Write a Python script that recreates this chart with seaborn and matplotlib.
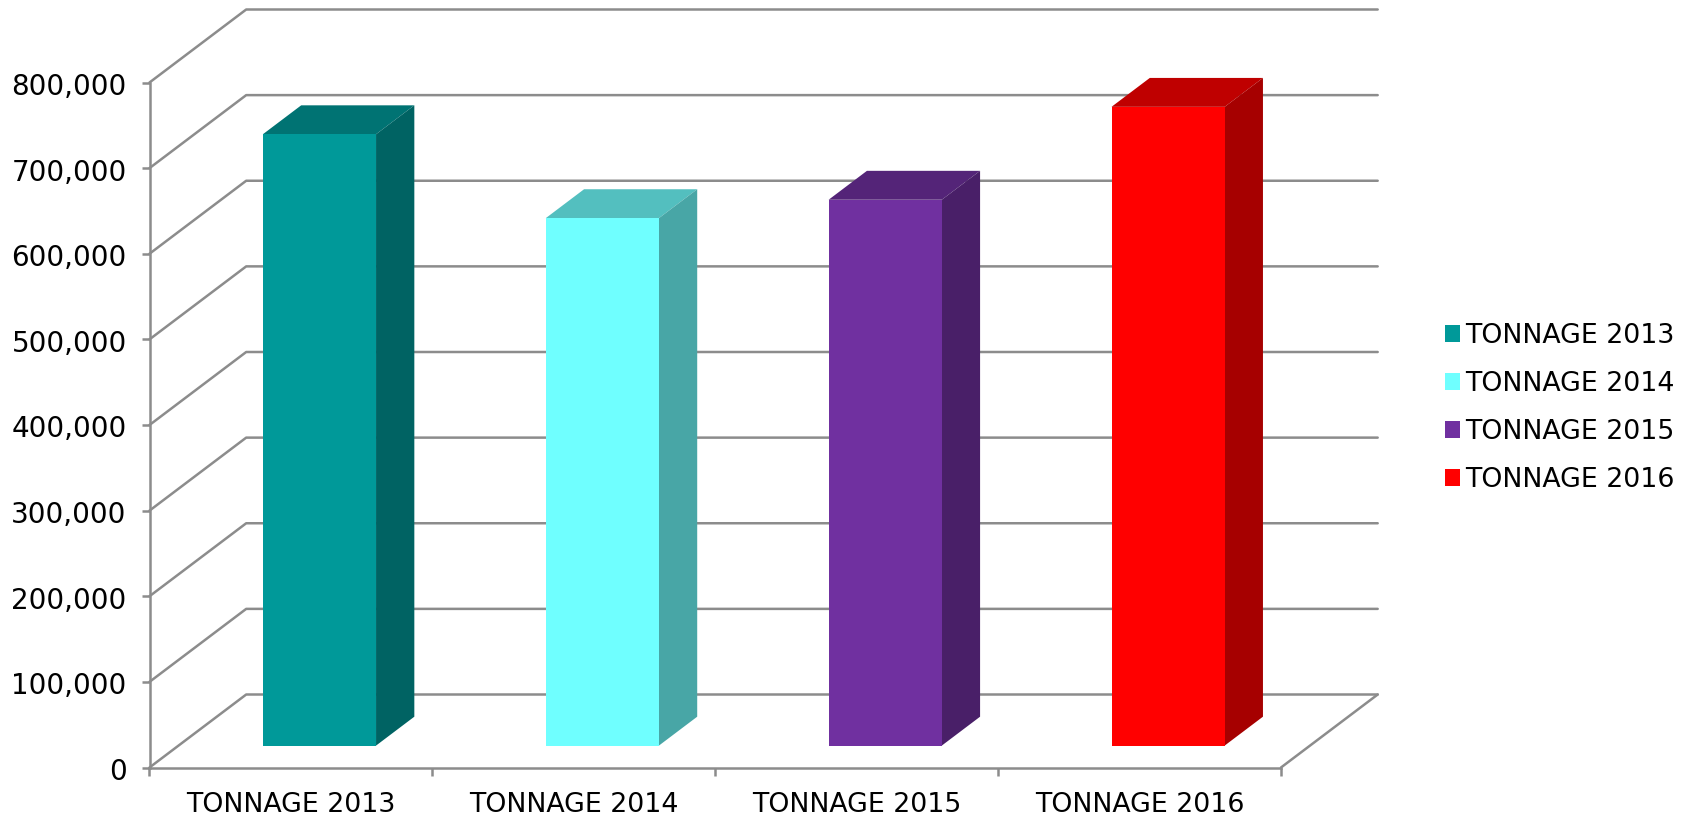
import matplotlib
matplotlib.use("Agg")
import matplotlib.pyplot as plt
import matplotlib.colors as mcolors
import matplotlib.transforms as mtrans
from matplotlib.patches import Polygon
from matplotlib.ticker import FuncFormatter
import seaborn as sns
import pandas as pd

categories = ["TONNAGE 2013", "TONNAGE 2014", "TONNAGE 2015", "TONNAGE 2016"]
values = [714000, 616000, 637500, 746000]
colors = ["#009999", "#6FFFFF", "#7030A0", "#FF0000"]
y_ticks = [0, 100000, 200000, 300000, 400000, 500000, 600000, 700000, 800000]

W, H = 1695, 816
X0, X1, Y0, Y1 = 149.5, 1281.0, 767.5, 82.5
GRID = "#8C8C8C"
LW = 1.8
FS_Y = 20
FS_X = 19.3

sns.set_theme(style="white", rc={"font.family": "DejaVu Sans", "text.color": "black"})
fig = plt.figure(figsize=(W / 100, H / 100), dpi=100, facecolor="white")
ax = fig.add_axes([X0 / W, 1 - Y0 / H, (X1 - X0) / W, (Y0 - Y1) / H])

df = pd.DataFrame({"category": categories, "value": values})
sns.barplot(data=df, x="category", y="value", hue="category", palette=colors,
            hue_order=categories, width=0.4, dodge=False, legend=True, ax=ax,
            saturation=1, linewidth=0, zorder=5)
ax.set_xlim(-0.5, 3.5)
ax.set_ylim(0, 800000)

# oblique depth of the chart's floor and wall, in data units
DX = 96.7 / ((X1 - X0) / 4)
DY = 73.0 / ((Y0 - Y1) / 800000)
def proj(x, y, d):
    return x + d * DX, y + d * DY

# wall and floor lines
line_kw = dict(color=GRID, lw=LW, clip_on=False, zorder=1, solid_capstyle="round")
for v in y_ticks:
    bx, by = proj(-0.5, v, 1)
    ex, _ = proj(3.5, v, 1)
    ax.plot([-0.5, bx, ex], [v, by, by], **line_kw)
ax.plot([3.5, proj(3.5, 0, 1)[0]], [0, DY], **line_kw)

# 3D faces of each bar
D_FRONT, D_BACK = 0.295, 0.691
shift = mtrans.Affine2D().translate(D_FRONT * DX, 0.30 * DY) + ax.transData
dd = D_BACK - D_FRONT
for bar in list(ax.patches):
    x, w, h = bar.get_x(), bar.get_width(), bar.get_height()
    if h == 0 or w == 0:
        continue
    rgb = mcolors.to_rgb(bar.get_facecolor())
    bar.set_transform(shift)
    bar.set_clip_on(False)
    top = [(x, h), (x + w, h), (x + w + dd * DX, h + dd * DY), (x + dd * DX, h + dd * DY)]
    side = [(x + w, 0), (x + w + dd * DX, dd * DY), (x + w + dd * DX, h + dd * DY), (x + w, h)]
    ax.add_patch(Polygon(top, closed=True, fc=[c * 0.75 for c in rgb], ec="none",
                         transform=shift, clip_on=False, zorder=4))
    ax.add_patch(Polygon(side, closed=True, fc=[c * 0.65 for c in rgb], ec="none",
                         transform=shift, clip_on=False, zorder=4))

# axes
sns.despine(ax=ax)
for s in ("left", "bottom"):
    ax.spines[s].set_color(GRID)
    ax.spines[s].set_linewidth(LW)
ax.set_xlabel("")
ax.set_ylabel("")
ax.set_yticks(y_ticks)
ax.yaxis.set_major_formatter(FuncFormatter(lambda v, _: f"{int(v):,}"))
ax.set_xticks(range(4))
ax.set_xticklabels(categories)
ax.set_xticks([-0.5, 0.5, 1.5, 2.5, 3.5], minor=True)
ax.tick_params(axis="x", which="major", length=0, pad=17.5, labelsize=FS_X, labelcolor="black")
ax.tick_params(axis="x", which="minor", length=6, width=LW, color=GRID, bottom=True)
ax.tick_params(axis="y", which="major", length=6, width=LW, color=GRID, left=True,
               pad=10.4, labelsize=FS_Y, labelcolor="black")
nudge = mtrans.ScaledTranslation(0, -1.5 / 100, fig.dpi_scale_trans)
for lab in ax.get_yticklabels():
    lab.set_transform(lab.get_transform() + nudge)

# legend
sns.move_legend(ax, loc="center left", bbox_to_anchor=(1444.5 / W, 1 - 408 / H),
                bbox_transform=fig.transFigure, frameon=False, title=None,
                fontsize=FS_X, handlelength=0.56, handleheight=0.56,
                handletextpad=0.22, labelspacing=0.82, borderpad=0, borderaxespad=0)

fig.savefig("out.png", dpi=100, facecolor="white")
